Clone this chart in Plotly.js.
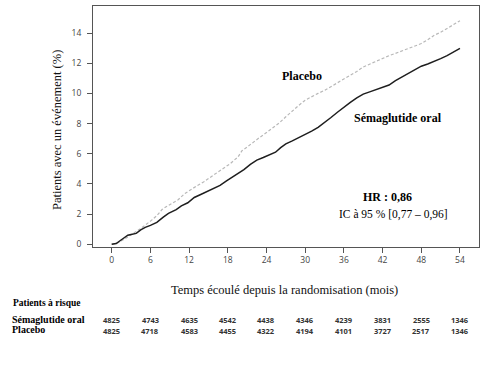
<!DOCTYPE html>
<html>
<head>
<meta charset="utf-8">
<script src="https://cdn.plot.ly/plotly-3.0.1.min.js"></script>
<style>html,body{margin:0;padding:0;background:#fff;}#chart{width:487px;height:365px;}</style>
</head>
<body>
<div id="chart"></div>
<script>
// ---- Data ----
var semaMonths = [0,0.7,1.5,2.5,3.0,3.8,4.5,5.2,6.0,7.0,8.0,8.8,10.0,10.8,11.8,12.8,13.8,14.8,15.8,16.8,17.8,18.9,19.6,20.5,21.5,22.5,23.5,24.4,25.4,26.2,27.0,28.0,29.0,30.0,31.0,32.0,33.0,34.0,35.0,36.0,37.0,38.0,39.0,40.0,41.0,42.0,43.0,44.0,45.0,46.0,47.0,48.0,49.0,50.0,51.0,52.0,53.0,54.0];
var semaValues = [0,0.05,0.3,0.6,0.65,0.72,0.95,1.12,1.25,1.45,1.8,2.05,2.3,2.55,2.75,3.1,3.3,3.5,3.65,3.9,4.2,4.5,4.7,4.95,5.3,5.58,5.75,5.9,6.1,6.4,6.65,6.85,7.05,7.25,7.5,7.75,8.05,8.4,8.75,9.1,9.4,9.7,9.95,10.1,10.25,10.35,10.55,10.85,11.1,11.3,11.6,11.8,11.95,12.1,12.3,12.5,12.75,12.98];

var placMonths = [0,1.0,2.0,3.0,3.8,4.5,5.3,6.2,7.0,7.8,8.5,9.3,10.3,11.3,12.3,13.3,14.3,15.3,16.3,17.3,18.4,19.6,20.2,21.0,22.0,23.0,24.0,25.0,26.0,27.0,28.0,29.0,30.0,31.0,32.0,33.0,34.0,35.0,36.0,37.0,38.0,39.0,40.0,41.0,42.0,43.0,44.0,45.0,46.0,47.0,48.0,49.0,50.0,51.0,52.0,53.0,54.0];
var placValues = [0,0.1,0.35,0.6,0.85,1.05,1.3,1.6,1.9,2.3,2.5,2.7,2.95,3.35,3.65,3.9,4.15,4.45,4.7,5.0,5.35,5.8,6.2,6.45,6.8,7.1,7.4,7.7,8.05,8.45,8.85,9.2,9.55,9.8,10.0,10.2,10.45,10.65,10.9,11.15,11.45,11.75,11.95,12.15,12.3,12.5,12.65,12.8,12.95,13.1,13.3,13.55,13.85,14.05,14.3,14.55,14.81];

var tickMonths = [0,6,12,18,24,30,36,42,48,54];
var atRiskSema = [4825,4743,4635,4542,4438,4346,4239,3831,2555,1346];
var atRiskPlac = [4825,4718,4583,4455,4322,4194,4101,3727,2517,1346];

var seriesNames = ["Sémaglutide oral","Placebo"];
var yTitle = "Patients avec un événement (%)";
var xTitle = "Temps écoulé depuis la randomisation (mois)";
var atRiskTitle = "Patients à risque";
var hrText = "HR : 0,86";
var ciText = "IC à 95 % [0,77 – 0,96]";

// ---- Layout helpers ----
var W = 487, H = 365, ML = 93, MR = 8, MT = 6, MB = 118;
var PW = W - ML - MR, PH = H - MT - MB;
function px(x){ return (x - ML) / PW; }
function py(y){ return (H - MB - y) / PH; }

var serif = "Liberation Serif";
var sans = "Open Sans";

var traces = [
  {x: placMonths, y: placValues, type: "scatter", mode: "lines", name: seriesNames[1],
   line: {color: "#b8b8b8", width: 1.2, dash: "3px,2px"}, hoverinfo: "skip"},
  {x: semaMonths, y: semaValues, type: "scatter", mode: "lines", name: seriesNames[0],
   line: {color: "#1e1e1e", width: 1.5}, hoverinfo: "skip"}
];

var ann = [];
ann.push({xref:"paper", yref:"paper", x:px(57), y:py(130), text:yTitle, showarrow:false, textangle:-90,
  font:{family:serif, size:12.5, color:"#111"}, xanchor:"center", yanchor:"middle"});
ann.push({xref:"paper", yref:"paper", x:px(284), y:py(290), text:xTitle, showarrow:false,
  font:{family:serif, size:12.5, color:"#111"}, xanchor:"center", yanchor:"middle"});
ann.push({xref:"paper", yref:"paper", x:px(302), y:py(76), text:"<b>"+seriesNames[1]+"</b>", showarrow:false,
  font:{family:serif, size:12, color:"#000"}, xanchor:"center", yanchor:"middle"});
ann.push({xref:"paper", yref:"paper", x:px(398), y:py(118), text:"<b>"+seriesNames[0]+"</b>", showarrow:false,
  font:{family:serif, size:12, color:"#000"}, xanchor:"center", yanchor:"middle"});
ann.push({xref:"paper", yref:"paper", x:px(387), y:py(197), text:"<b>"+hrText+"</b>", showarrow:false,
  font:{family:serif, size:12, color:"#000"}, xanchor:"center", yanchor:"middle"});
ann.push({xref:"paper", yref:"paper", x:px(393), y:py(214), text:ciText, showarrow:false,
  font:{family:serif, size:11.5, color:"#000"}, xanchor:"center", yanchor:"middle"});
ann.push({xref:"paper", yref:"paper", x:px(11), y:py(303), text:"<b>"+atRiskTitle+"</b>", showarrow:false,
  font:{family:serif, size:9.5, color:"#000"}, xanchor:"left", yanchor:"middle"});
ann.push({xref:"paper", yref:"paper", x:px(10), y:py(319.5), text:"<b>"+seriesNames[0]+"</b>", showarrow:false,
  font:{family:serif, size:10, color:"#000"}, xanchor:"left", yanchor:"middle"});
ann.push({xref:"paper", yref:"paper", x:px(10), y:py(329.5), text:"<b>"+seriesNames[1]+"</b>", showarrow:false,
  font:{family:serif, size:10, color:"#000"}, xanchor:"left", yanchor:"middle"});
for (var i = 0; i < tickMonths.length; i++) {
  ann.push({xref:"x", yref:"paper", x:tickMonths[i], y:py(320), text:"<b>"+atRiskSema[i]+"</b>", showarrow:false,
    font:{family:sans, size:7.5, color:"#333"}, xanchor:"center", yanchor:"middle"});
  ann.push({xref:"x", yref:"paper", x:tickMonths[i], y:py(331), text:"<b>"+atRiskPlac[i]+"</b>", showarrow:false,
    font:{family:sans, size:7.5, color:"#333"}, xanchor:"center", yanchor:"middle"});
}

var layout = {
  width: W, height: H,
  margin: {l: ML, r: MR, t: MT, b: MB, pad: 0},
  paper_bgcolor: "#fff", plot_bgcolor: "#fff",
  showlegend: false,
  font: {family: sans},
  xaxis: {
    range: [-2.9, 56.95], tickvals: tickMonths, ticktext: tickMonths.map(String),
    showgrid: false, zeroline: false, showline: true, mirror: true,
    linecolor: "#555", linewidth: 1, ticks: "outside", ticklen: 5, tickcolor: "#555",
    tickfont: {family: sans, size: 8.5, color: "#444"}
  },
  yaxis: {
    range: [-0.18, 15.79], tickvals: [0,2,4,6,8,10,12,14],
    showgrid: false, zeroline: false, showline: true, mirror: true,
    linecolor: "#555", linewidth: 1, ticks: "outside", ticklen: 5, tickcolor: "#555",
    ticklabelstandoff: 4,
    tickfont: {family: sans, size: 8.5, color: "#444"}
  },
  annotations: ann
};

Plotly.newPlot("chart", traces, layout, {staticPlot: true, displayModeBar: false});
</script>
</body>
</html>
